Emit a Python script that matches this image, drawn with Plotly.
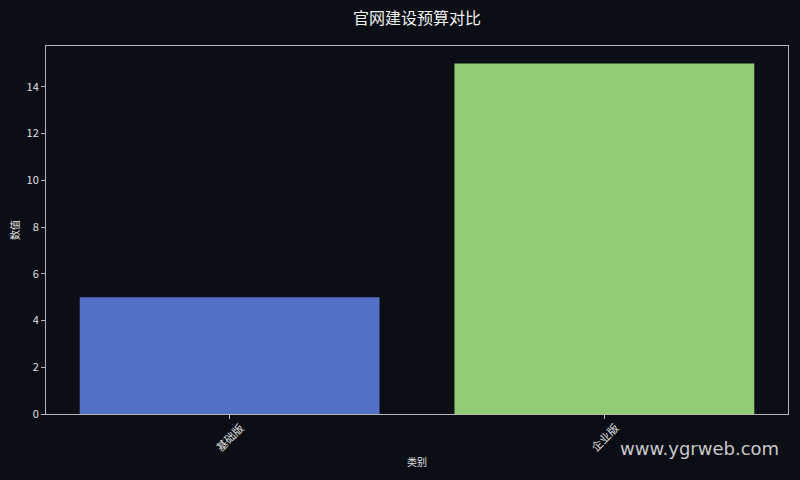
import plotly.graph_objects as go

categories = ["基础版", "企业版"]
values = [5, 15]
bar_colors = ["#5470c6", "#91cc75"]

BG = "#0b0e14"
FONT = "Noto Sans CJK SC, DejaVu Sans, sans-serif"
AXIS = "#b4b4b4"

fig = go.Figure()
fig.add_trace(go.Bar(
    x=categories, y=values,
    marker=dict(color=bar_colors, line=dict(width=0)),
    width=0.8,
))

fig.update_layout(
    width=800, height=480,
    paper_bgcolor=BG, plot_bgcolor=BG,
    margin=dict(l=46, r=12, t=46, b=66),
    font=dict(family=FONT, color="#e6e6e6", size=11),
    showlegend=False,
    title=dict(text="官网建设预算对比", x=0.5213, xanchor="center",
               y=0.962, yanchor="middle", font=dict(size=16, color="#f0f0f0")),
)
fig.update_xaxes(
    range=[-0.49, 1.49], showgrid=False, zeroline=False, automargin=False,
    showline=True, linecolor=AXIS, linewidth=1, mirror=True,
    ticks="outside", ticklen=4, tickcolor=AXIS, showticklabels=False,
    title=dict(text="类别", font=dict(size=10, color="#e0e0e0"), standoff=40),
)
fig.update_yaxes(
    range=[0, 15.75], dtick=2, showgrid=False, zeroline=False, automargin=False,
    showline=True, linecolor=AXIS, linewidth=1, mirror=True,
    ticks="outside", ticklen=4, tickcolor=AXIS,
    tickfont=dict(size=11, color="#e0e0e0"),
    title=dict(text="数值", font=dict(size=10, color="#e0e0e0"), standoff=5),
)

# rotated category labels centred under their ticks
for cat in categories:
    fig.add_annotation(
        text=cat, x=cat, xref="x", yref="paper", y=-0.063,
        xanchor="center", yanchor="middle", textangle=-45, showarrow=False,
        font=dict(size=11, color="#e0e0e0"),
    )

fig.add_annotation(
    text="www.ygrweb.com", xref="paper", yref="paper",
    x=0.9906, y=-0.0924, xanchor="right", yanchor="middle", showarrow=False,
    font=dict(size=18, color="rgba(235,235,235,0.85)", family="DejaVu Sans, sans-serif"),
)

# drop the default page margin so the figure sits at 0,0
fig.write_html("out.html", config={"displayModeBar": False},
               post_script="document.body.style.margin='0';"
               "document.body.style.background='" + BG + "';")
